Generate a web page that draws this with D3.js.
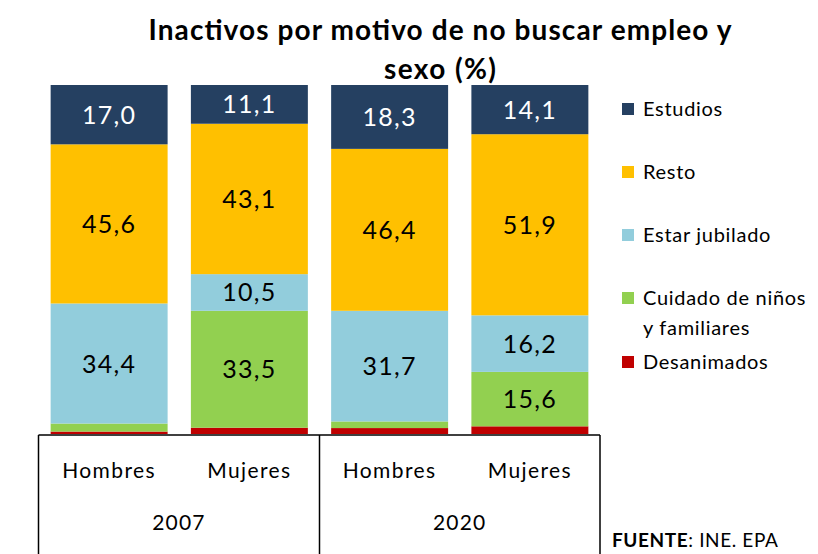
<!DOCTYPE html>
<html><head><meta charset="utf-8">
<script src="https://cdn.jsdelivr.net/npm/d3@7"></script>
<style>body{margin:0;background:#fff}svg{display:block}text{font-family:Lato,"Open Sans",sans-serif}</style>
</head><body>
<svg id="c" width="818" height="554"></svg>
<script>
const years = ["2007","2007","2020","2020"];
const sexes = ["Hombres","Mujeres","Hombres","Mujeres"];
const seriesNames = ["Desanimados","Cuidado de niños y familiares","Estar jubilado","Resto","Estudios"];
const desanimados = [0.7, 1.8, 1.7, 2.2];
const cuidado = [2.3, 33.5, 1.9, 15.6];
const jubilado = [34.4, 10.5, 31.7, 16.2];
const resto = [45.6, 43.1, 46.4, 51.9];
const estudios = [17.0, 11.1, 18.3, 14.1];
const colors = ["#C00000","#92D050","#92CDDC","#FFC000","#254061"];
const labelColors = ["#000","#000","#000","#000","#fff"];
const titleLines = ["Inactivos por motivo de no buscar empleo y","sexo (%)"];
const source = ["FUENTE",": INE. EPA"];

const svg = d3.select("#c");
const keys = years.map((y,i)=>y+"|"+sexes[i]);
const rows = keys.map((k,i)=>({key:k, s0:desanimados[i], s1:cuidado[i], s2:jubilado[i], s3:resto[i], s4:estudios[i]}));
const stack = d3.stack().keys(["s0","s1","s2","s3","s4"])(rows);

const x = d3.scaleBand().domain(keys).range([39,600]).paddingInner(0.166).paddingOuter(0.083);
const y = d3.scaleLinear().domain([0,100]).range([434,85]);

// title
const titleW = [583,112];
svg.append("g").selectAll("text").data(titleLines).join("text")
  .attr("x",440).attr("y",(d,i)=>40+i*39).attr("text-anchor","middle")
  .attr("textLength",(d,i)=>titleW[i]).attr("lengthAdjust","spacing")
  .attr("font-weight","bold").attr("font-size",28).attr("fill","#000").text(d=>d);

// bars
const g = svg.append("g");
stack.forEach((layer,li)=>{
  g.append("g").attr("fill",colors[li]).selectAll("rect").data(layer).join("rect")
    .attr("x",d=>x(d.data.key)).attr("width",x.bandwidth())
    .attr("y",d=>y(d[1])).attr("height",d=>y(d[0])-y(d[1]));
  g.append("g").selectAll("text").data(layer.filter(d=>d[1]-d[0]>=5)).join("text")
    .attr("x",d=>x(d.data.key)+x.bandwidth()/2).attr("y",d=>(y(d[0])+y(d[1]))/2+9)
    .attr("text-anchor","middle").attr("font-size",25).attr("letter-spacing",1.3).attr("fill",labelColors[li])
    .text(d=>d3.format(".1f")(d[1]-d[0]).replace(".",","));
});

// axis
const ax = svg.append("g").attr("stroke","#000").attr("stroke-width",1.5);
ax.append("line").attr("x1",38.5).attr("x2",600).attr("y1",435).attr("y2",435);
const groupEdges = [38.5, (x(keys[1])+x.bandwidth()+x(keys[2]))/2, 600];
ax.selectAll(".v").data(groupEdges).join("line").attr("x1",d=>d).attr("x2",d=>d).attr("y1",435).attr("y2",554);
svg.append("g").selectAll("text").data(keys).join("text")
  .attr("x",d=>x(d)+x.bandwidth()/2).attr("y",478).attr("text-anchor","middle")
  .attr("font-size",21).attr("letter-spacing",1.4).attr("fill","#000").text((d,i)=>sexes[i]);
const yearGroups = [...new Set(years)];
svg.append("g").selectAll("text").data(yearGroups).join("text")
  .attr("x",(d,i)=>(groupEdges[i]+groupEdges[i+1])/2).attr("y",530).attr("text-anchor","middle")
  .attr("font-size",21).attr("letter-spacing",1.2).attr("fill","#000").text(d=>d);

// legend
const legendItems = [
  {c:colors[4], y:109, lines:["Estudios"]},
  {c:colors[3], y:172, lines:["Resto"]},
  {c:colors[2], y:235, lines:["Estar jubilado"]},
  {c:colors[1], y:298, lines:["Cuidado de niños","y familiares"]},
  {c:colors[0], y:362, lines:["Desanimados"]}
];
const lg = svg.append("g");
legendItems.forEach(it=>{
  lg.append("rect").attr("x",622).attr("y",it.y-6).attr("width",12).attr("height",12).attr("fill",it.c);
  it.lines.forEach((l,j)=>{
    lg.append("text").attr("x",643).attr("y",it.y+7+j*30).attr("font-size",20).attr("letter-spacing",0.7).attr("fill","#000").text(l);
  });
});

// source
const st = svg.append("text").attr("x",612).attr("y",547).attr("font-size",19).attr("letter-spacing",0.6).attr("fill","#000");
st.append("tspan").attr("font-weight","bold").text(source[0]);
st.append("tspan").text(source[1]);
</script>
</body></html>
